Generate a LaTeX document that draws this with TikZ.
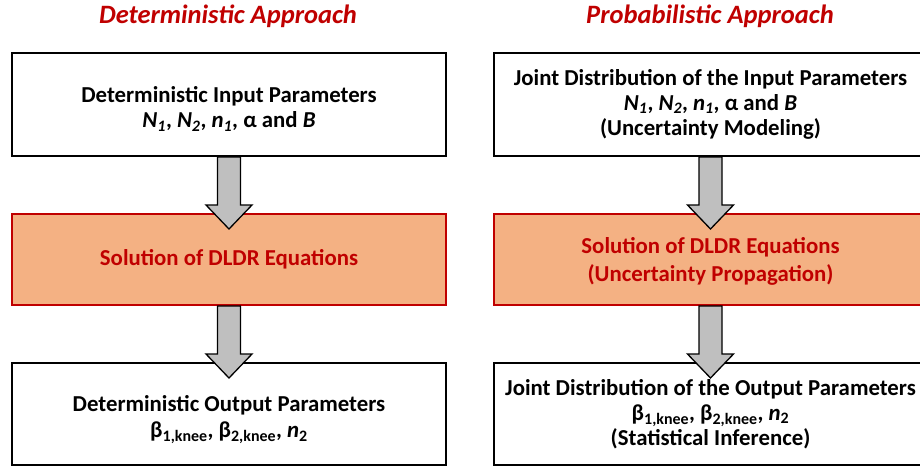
\documentclass[tikz,border=0pt]{standalone}
\usepackage{fontspec}
\setmainfont{Carlito}
\usetikzlibrary{calc}
\definecolor{darkred}{HTML}{C00000}
\definecolor{boxorange}{HTML}{F4B183}
\definecolor{arrgrey}{HTML}{BFBFBF}
\tikzset{
  plainbox/.style={draw=black, line width=2pt, fill=white, minimum width=434pt, inner sep=0pt, align=center, font=\bfseries\fontsize{22.8}{25}\selectfont},
  solbox/.style={plainbox, draw=darkred, fill=boxorange, text=darkred},
  titletext/.style={text=darkred, font=\bfseries\itshape\fontsize{26.5}{28}\selectfont, inner sep=0pt},
  blockarr/.style={draw=black, line width=1.3pt, fill=arrgrey, line join=miter}
}
\begin{document}
\begin{tikzpicture}[x=1pt,y=-1pt]
\clip (0,0) rectangle (920,467);
\fill[white] (0,0) rectangle (920,467);
% titles
\node[titletext] (tl) at (228,16) {Deterministic Approach};
\node[titletext] (tr) at (710,16) {Probabilistic Approach};
% left column
\node[plainbox, minimum height=103pt] (L1) at (229,104.5) {\rule{0pt}{25pt}Deterministic Input Parameters\\ \textit{N\textsubscript{1}}, \textit{N\textsubscript{2}}, \textit{n\textsubscript{1}}, α and \textit{B}};
\node[solbox, minimum height=91pt] (L2) at (229,259.5) {Solution of DLDR Equations};
\node[plainbox, minimum height=102pt] (L3) at (229,414) {\rule{0pt}{28pt}Deterministic Output Parameters\\[1pt] β\textsubscript{1,knee}, β\textsubscript{2,knee}, \textit{n}\textsubscript{2}};
% right column
\node[plainbox, minimum height=103pt] (R1) at (710.5,104.5) {Joint Distribution of the Input Parameters\\ \textit{N\textsubscript{1}}, \textit{N\textsubscript{2}}, \textit{n\textsubscript{1}}, α and \textit{B}\\ (Uncertainty Modeling)};
\node[solbox, minimum height=91pt] (R2) at (710.5,259.5) {\rule{0pt}{20pt}Solution of DLDR Equations\\[3pt] (Uncertainty Propagation)};
\node[plainbox, minimum height=102pt] (R3) at (710.5,414) {Joint Distribution of the Output Parameters\\ β\textsubscript{1,knee}, β\textsubscript{2,knee}, \textit{n}\textsubscript{2}\\ (Statistical Inference)};
% block arrows
\foreach \a/\b in {L1/L2, L2/L3, R1/R2, R2/R3}{
  \draw[blockarr] ($(\a.south)+(-11.5,0)$) -- ($(\a.south)+(11.5,0)$) -- ($(\b.north)+(11.5,-8)$) -- ($(\b.north)+(23,-8)$) -- ($(\b.north)+(0,16)$) -- ($(\b.north)+(-23,-8)$) -- ($(\b.north)+(-11.5,-8)$) -- cycle;
}
\end{tikzpicture}
\end{document}
